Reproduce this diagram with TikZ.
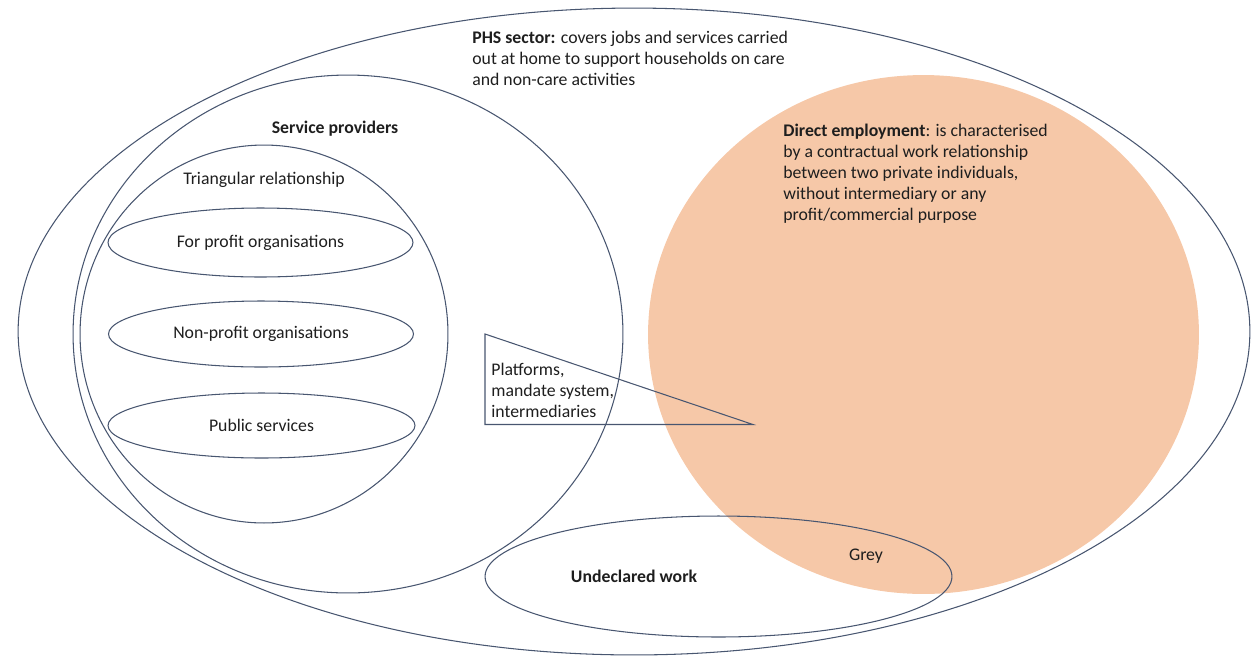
\documentclass[tikz,border=0pt]{standalone}
\usepackage{fontspec}
\setmainfont{Carlito}
\usepackage{tikz}
\usetikzlibrary{shapes.geometric, positioning}
\definecolor{linecolor}{RGB}{72, 86, 112}
\definecolor{directcolor}{RGB}{246, 200, 168}
\definecolor{textcolor}{RGB}{30, 30, 30}

\tikzset{
  setellipse/.style={ellipse, draw=linecolor, line width=0.6pt, inner sep=0pt},
  plaintext/.style={inner sep=0pt, text=textcolor, align=left, font=\fontsize{10.1}{11.95}\selectfont},
  boldtext/.style={plaintext, font=\fontsize{10.1}{11.95}\selectfont\bfseries}
}

\begin{document}
\begin{tikzpicture}[x=0.02cm, y=-0.02cm]
        \useasboundingbox (0,0) rectangle (1251,657);

        % PHS sector and the two big groups
        \node[setellipse, minimum width=24.64cm, minimum height=12.94cm] (phs) at (634, 331.5) {};
        \node[setellipse, minimum width=11cm, minimum height=10.36cm] (providers) at (348, 334) {};
        \node[setellipse, minimum width=7.36cm, minimum height=7.56cm] (triangular) at (264, 334) {};
        \node[ellipse, fill=directcolor, inner sep=0pt, minimum width=11.02cm, minimum height=10.38cm] (direct) at (923.5, 334.5) {};

        % Kinds of providers
        \node[setellipse, plaintext, align=center, minimum width=6.1cm, minimum height=1.38cm] (forprofit) at (260.5, 242.5) {For profit organisations};
        \node[setellipse, plaintext, align=center, minimum width=6.1cm, minimum height=1.32cm] (nonprofit) at (261, 334) {Non-profit organisations};
        \node[setellipse, plaintext, align=center, minimum width=6.14cm, minimum height=1.3cm] (public) at (261.5, 425.5) {Public services};

        % Intermediaries
        \coordinate (tritop) at (485, 334);
        \coordinate (trileft) at (485, 424.5);
        \coordinate (triright) at (753, 424.5);
        \draw[linecolor, line width=0.6pt] (tritop) -- (trileft) -- (triright) -- cycle;

        % Undeclared work
        \node[setellipse, minimum width=9.34cm, minimum height=2.42cm] (undeclared) at (718.5, 576.5) {};

        % Texts (multi-line ones sit on the baseline of their last line)
        \node[plaintext, anchor=base west] (phstext) at (472, 85) {\textbf{PHS sector:} covers jobs and services carried\\out at home to support households on care\\and non-care activities};
        \node[boldtext, anchor=base] (providerstext) at (335, 133) {Service providers};
        \node[plaintext, anchor=base] (triangulartext) at (264, 184) {Triangular relationship};
        \node[plaintext, anchor=base west] (directtext) at (783, 220) {\textbf{Direct employment}: is characterised\\by a contractual work relationship\\between two private individuals,\\without intermediary or any\\profit/commercial purpose};
        \node[plaintext, anchor=base west] (platformstext) at (491, 417) {Platforms,\\mandate system,\\intermediaries};
        \node[boldtext, anchor=base] (undeclaredtext) at (634, 582) {Undeclared work};
        \node[plaintext, anchor=base] (greytext) at (866, 560) {Grey};

    \end{tikzpicture}
\end{document}
